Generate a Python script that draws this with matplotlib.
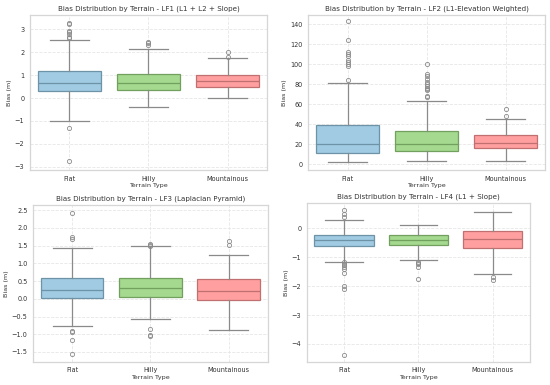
import matplotlib.pyplot as plt

terrains = ['Flat', 'Hilly', 'Mountainous']
colors = ['#a0cbe2', '#a5d98f', '#ff9f9f']
edges = ['#6f93a6', '#72a05e', '#c07070']

titles = ['Bias Distribution by Terrain - LF1 (L1 + L2 + Slope)',
          'Bias Distribution by Terrain - LF2 (L1-Elevation Weighted)',
          'Bias Distribution by Terrain - LF3 (Laplacian Pyramid)',
          'Bias Distribution by Terrain - LF4 (L1 + Slope)']

# box stats per panel: [Flat, Hilly, Mountainous]
lf1_q1 = [0.31, 0.37, 0.50]
lf1_med = [0.65, 0.65, 0.76]
lf1_q3 = [1.19, 1.07, 1.01]
lf1_lo = [-0.98, -0.37, 0.01]
lf1_hi = [2.56, 2.16, 1.75]
lf1_fliers = [[3.29, 3.22, 2.94, 2.87, 2.81, 2.68, 2.63, -1.31, -2.74],
              [2.47, 2.40, 2.32],
              [2.00, 1.81]]

lf2_q1 = [11.3, 12.9, 16.2]
lf2_med = [20.5, 20.2, 21.2]
lf2_q3 = [39.4, 33.4, 28.8]
lf2_lo = [1.7, 3.0, 3.0]
lf2_hi = [81.0, 63.6, 45.4]
lf2_fliers = [[84, 98, 100, 102, 104, 108, 110, 112, 124, 143],
              [67, 68, 74, 75, 76, 78, 80, 82, 85, 88, 90, 100],
              [48, 55]]

lf3_q1 = [0.01, 0.05, -0.04]
lf3_med = [0.26, 0.30, 0.23]
lf3_q3 = [0.60, 0.60, 0.55]
lf3_lo = [-0.76, -0.57, -0.89]
lf3_hi = [1.44, 1.49, 1.23]
lf3_fliers = [[1.70, 1.75, 2.43, -0.90, -0.94, -1.16, -1.56],
              [1.50, 1.52, 1.55, -0.85, -1.02, -1.05],
              [1.52, 1.62]]

lf4_q1 = [-0.60, -0.58, -0.68]
lf4_med = [-0.41, -0.42, -0.37]
lf4_q3 = [-0.22, -0.23, -0.09]
lf4_lo = [-1.15, -1.10, -1.58]
lf4_hi = [0.28, 0.13, 0.56]
lf4_fliers = [[0.40, 0.50, 0.63, -1.18, -1.22, -1.27, -1.35, -1.42, -1.55, -2.00, -2.10, -4.38],
              [-1.15, -1.20, -1.25, -1.35, -1.74],
              [-1.70, -1.78]]

panels = [
    (lf1_q1, lf1_med, lf1_q3, lf1_lo, lf1_hi, lf1_fliers, (-3.15, 3.63), [-3, -2, -1, 0, 1, 2, 3]),
    (lf2_q1, lf2_med, lf2_q3, lf2_lo, lf2_hi, lf2_fliers, (-6, 149), [0, 20, 40, 60, 80, 100, 120, 140]),
    (lf3_q1, lf3_med, lf3_q3, lf3_lo, lf3_hi, lf3_fliers, (-1.78, 2.65), [-1.5, -1.0, -0.5, 0.0, 0.5, 1.0, 1.5, 2.0, 2.5]),
    (lf4_q1, lf4_med, lf4_q3, lf4_lo, lf4_hi, lf4_fliers, (-4.62, 0.88), [-4, -3, -2, -1, 0]),
]

positions = [
    [0.0545, 0.558, 0.431, 0.403],
    [0.560, 0.558, 0.431, 0.403],
    [0.060, 0.060, 0.427, 0.408],
    [0.558, 0.060, 0.405, 0.413],
]

fig = plt.figure(figsize=(5.5, 3.85), dpi=100)

for i, (q1, med, q3, lo, hi, fl, ylim, yticks) in enumerate(panels):
    ax = fig.add_axes(positions[i])
    stats = []
    for j in range(3):
        stats.append({'q1': q1[j], 'med': med[j], 'q3': q3[j],
                      'whislo': lo[j], 'whishi': hi[j], 'fliers': fl[j]})
    bp = ax.bxp(stats, positions=[0, 1, 2], widths=0.8, capwidths=0.5,
                patch_artist=True, showfliers=True,
                whiskerprops=dict(color='#8a8a8a', lw=0.9),
                capprops=dict(color='#8a8a8a', lw=0.9),
                flierprops=dict(marker='o', markersize=3, markerfacecolor='none',
                                markeredgecolor='#8a8a8a', markeredgewidth=0.6))
    for j, box in enumerate(bp['boxes']):
        box.set_facecolor(colors[j])
        box.set_edgecolor(edges[j])
        box.set_linewidth(0.9)
        bp['medians'][j].set_color(edges[j])
        bp['medians'][j].set_linewidth(0.9)
    ax.set_xlim(-0.5, 2.5)
    ax.set_ylim(*ylim)
    ax.set_yticks(yticks)
    ax.set_xticks([0, 1, 2])
    ax.set_xticklabels(terrains)
    ax.set_axisbelow(True)
    ax.grid(True, color='#e6e6e6', linestyle='--', linewidth=0.6)
    for s in ax.spines.values():
        s.set_color('#d6d6d6')
        s.set_linewidth(0.9)
    ax.tick_params(length=0, labelsize=4.7, colors='#333333', pad=4)
    ax.set_title(titles[i], fontsize=5.1, color='#333333', pad=3)
    ax.set_xlabel('Terrain Type', fontsize=4.6, color='#333333', labelpad=1)
    ax.set_ylabel('Bias (m)', fontsize=4.6, color='#333333', labelpad=2)

fig.savefig('out.png', dpi=100)
